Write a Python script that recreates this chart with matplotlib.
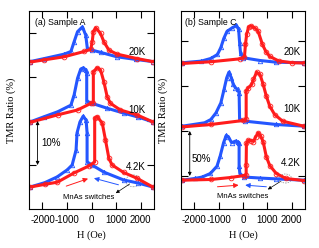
import matplotlib
matplotlib.use("Agg")
import matplotlib.pyplot as plt
from matplotlib.patches import Ellipse

plt.rcParams["font.family"] = ["Liberation Sans", "DejaVu Sans"]
plt.rcParams["axes.unicode_minus"] = False

# field values (Oe) and TMR (%, offset per temperature)
# ---- panel (a), Sample A ----
A_20K_BLUE_H = [-2500, -1920, -1110, -840, -710, -570, -370, -235, -170, 30, 370, 1030, 1800, 2500]
A_20K_BLUE_Y = [33.5, 34.2, 35.2, 35.8, 38.0, 40.3, 41.4, 39.5, 36.5, 36.1, 35.6, 34.6, 34.0, 33.5]
A_20K_RED_H = [-2500, -1920, -1110, -300, -30, 30, 75, 170, 370, 505, 710, 1040, 1850, 2500]
A_20K_RED_Y = [33.4, 33.9, 34.6, 35.8, 36.3, 38.0, 40.3, 41.2, 39.9, 38.0, 36.1, 35.2, 34.2, 33.5]

A_10K_BLUE_H = [-2500, -1920, -1380, -840, -710, -570, -440, -330, -235, -195, -195, 30, 640, 1310, 1900, 2500]
A_10K_BLUE_Y = [19.8, 21.0, 22.1, 23.6, 25.9, 29.7, 31.8, 32.1, 31.6, 30.8, 24.5, 24.0, 22.9, 21.8, 20.9, 19.8]
A_10K_RED_H = [-2500, -1380, -570, -30, 75, 75, 235, 370, 505, 640, 775, 1180, 1850, 2500]
A_10K_RED_Y = [19.7, 21.4, 22.5, 24.0, 24.2, 31.2, 32.1, 31.6, 28.9, 25.5, 24.0, 22.5, 21.4, 19.8]

A_42K_BLUE_H = [-2500, -1900, -1400, -990, -790, -630, -590, -470, -340, -220, -180, -180, 20, 500, 1310, 1900, 2500]
A_42K_BLUE_Y = [5.0, 6.0, 7.3, 8.9, 10.0, 13.4, 17.3, 19.8, 21.1, 20.2, 17.3, 10.7, 10.0, 8.4, 6.6, 5.9, 5.0]
A_42K_RED_H = [-2500, -1900, -1390, -710, -100, 130, 130, 235, 440, 570, 710, 840, 1310, 1850, 2500]
A_42K_RED_Y = [5.0, 5.6, 6.1, 8.2, 9.8, 10.7, 20.6, 21.0, 19.5, 15.7, 11.5, 10.0, 8.3, 7.0, 5.0]

# ---- panel (b), Sample C ----
B_20K_BLUE_H = [-2500, -1720, -1320, -1050, -910, -790, -660, -440, -270, -180, -140, -100, 20, 700, 1370, 2500]
B_20K_BLUE_Y = [125.8, 127.6, 130.6, 135.0, 142.8, 152.8, 160.6, 164.7, 167.2, 162.8, 148.0, 136.1, 131.3, 128.3, 126.4, 125.8]
B_20K_RED_H = [-2500, -1320, -110, 60, 100, 150, 230, 330, 490, 620, 800, 940, 1100, 1470, 2030, 2500]
B_20K_RED_Y = [125.0, 126.9, 130.2, 132.2, 146.1, 157.2, 165.6, 166.7, 164.4, 160.9, 146.1, 138.3, 132.8, 127.8, 125.8, 125.6]

B_10K_BLUE_H = [-2500, -1580, -1320, -1110, -910, -780, -670, -580, -480, -400, -310, -220, -160, -140, 90, 1370, 2500]
B_10K_BLUE_Y = [55.3, 59.1, 62.8, 70.2, 81.3, 96.1, 109.1, 115.3, 109.1, 101.7, 98.0, 96.1, 92.4, 62.8, 60.9, 57.2, 55.3]
B_10K_RED_H = [-2500, -1320, 20, 130, 130, 220, 360, 430, 560, 700, 830, 960, 1100, 1300, 1630, 2500]
B_10K_RED_Y = [54.5, 57.2, 61.7, 62.8, 94.2, 98.0, 101.7, 107.2, 115.3, 112.8, 101.7, 88.7, 77.6, 68.3, 60.9, 55.3]

B_42K_BLUE_H = [-2500, -1990, -1680, -1340, -1070, -940, -800, -690, -600, -470, -300, -200, -160, -160, -130, 50, 700, 1340, 2500]
B_42K_BLUE_Y = [-4.7, -2.8, -1.2, 2.8, 10.9, 22.0, 36.9, 45.0, 43.5, 37.0, 38.8, 37.2, 36.5, 10.8, 2.7, -1.2, -2.3, -3.2, -4.7]
B_42K_RED_H = [-2500, -1320, -510, 50, 130, 130, 140, 220, 330, 430, 530, 630, 720, 830, 960, 1100, 1370, 1770, 2500]
B_42K_RED_Y = [-4.7, -3.9, -1.7, 0.5, 0.8, 11.9, 36.1, 39.7, 39.4, 38.3, 43.8, 47.9, 44.9, 37.9, 21.3, 11.6, 2.7, -2.8, -5.1]

TEMPS = ["20K", "10K", "4.2K"]
XTICKS = [-2000, -1000, 0, 1000, 2000]

RED = "#ff1c1c"
BLUE = "#2456ff"


def draw_panel(ax, curves, ylim, yticks):
    for hb, yb, hr, yr in curves:
        ax.plot(hb, yb, color=BLUE, lw=2.2, marker="^", ms=3.2, mfc="none", mew=0.6)
        ax.plot(hr, yr, color=RED, lw=2.2, marker="o", ms=3.4, mfc="none", mew=0.6)
    ax.set_xlim(-2550, 2550)
    ax.set_ylim(*ylim)
    ax.set_xticks(XTICKS)
    ax.set_xticklabels([str(t) for t in XTICKS])
    ax.set_yticks(yticks)
    ax.set_yticklabels([])
    ax.tick_params(direction="in", top=True, right=True, length=5, width=0.8,
                   labelsize=7, pad=4)
    for s in ax.spines.values():
        s.set_linewidth(0.8)
    ax.set_xlabel("H (Oe)", family="Liberation Serif", fontsize=7.5, labelpad=4)
    ax.set_ylabel("TMR Ratio (%)", family="Liberation Serif", fontsize=7.5, labelpad=5)


fig = plt.figure(figsize=(3.19, 2.48), dpi=100)
ax_a = fig.add_axes([29 / 319, 1 - 209 / 248, 125 / 319, 198 / 248])
ax_b = fig.add_axes([181 / 319, 1 - 209 / 248, 124 / 319, 198 / 248])

draw_panel(ax_a, [(A_20K_BLUE_H, A_20K_BLUE_Y, A_20K_RED_H, A_20K_RED_Y),
                  (A_10K_BLUE_H, A_10K_BLUE_Y, A_10K_RED_H, A_10K_RED_Y),
                  (A_42K_BLUE_H, A_42K_BLUE_Y, A_42K_RED_H, A_42K_RED_Y)],
           (0, 45), [10, 20, 30, 40])
draw_panel(ax_b, [(B_20K_BLUE_H, B_20K_BLUE_Y, B_20K_RED_H, B_20K_RED_Y),
                  (B_10K_BLUE_H, B_10K_BLUE_Y, B_10K_RED_H, B_10K_RED_Y),
                  (B_42K_BLUE_H, B_42K_BLUE_Y, B_42K_RED_H, B_42K_RED_Y)],
           (-36.7, 183.3), [0, 50, 100, 150])

ax_a.text(0.045, 0.94, "(a) Sample A", transform=ax_a.transAxes, fontsize=6.3, va="center")
ax_b.text(0.035, 0.94, "(b) Sample C", transform=ax_b.transAxes, fontsize=6.3, va="center")

for t, y in zip(TEMPS, [35.7, 22.5, 9.5]):
    ax_a.text(2200, y, t, fontsize=7, ha="right", va="center")
for t, y in zip(TEMPS, [138.3, 73.9, 13.9]):
    ax_b.text(2380, y, t, fontsize=7, ha="right", va="center")

# scale bars
bar = dict(arrowstyle="<|-|>", color="black", lw=0.6, mutation_scale=5, shrinkA=0, shrinkB=0)
ax_a.annotate("", xy=(-2200, 20), xytext=(-2200, 10), arrowprops=bar)
ax_a.text(-2040, 15, "10%", fontsize=7, va="center")
ax_b.annotate("", xy=(-2190, 50), xytext=(-2190, 0), arrowprops=bar)
ax_b.text(-2120, 19.4, "50%", fontsize=7, va="center")


# sweep direction arrows and MnAs switch notes
def sweep_arrows(ax, red_tail, red_tip, blue_tail, blue_tip):
    ax.annotate("", xy=red_tip, xytext=red_tail,
                arrowprops=dict(arrowstyle="-|>", color="#ff9a9a", lw=0.7,
                                mutation_scale=7, fc=RED, ec=RED, shrinkA=0, shrinkB=0))
    ax.annotate("", xy=blue_tip, xytext=blue_tail,
                arrowprops=dict(arrowstyle="-|>", color="#9aa8ff", lw=0.7,
                                mutation_scale=7, fc=BLUE, ec=BLUE, shrinkA=0, shrinkB=0))


sweep_arrows(ax_a, (-1030, 5.2), (-140, 6.9), (1100, 5.5), (100, 7.0))
sweep_arrows(ax_b, (-1050, -12), (-180, -10.2), (960, -12), (90, -10.2))

ax_a.text(-100, 2.7, "MnAs switches", fontsize=5.5, ha="center", va="center")
ax_b.text(-30, -22.8, "MnAs switches", fontsize=5.5, ha="center", va="center")

ax_a.add_patch(Ellipse((1700, 6.4), 600, 2.7, fill=False, ls=(0, (2, 1.5)), ec="#888888", lw=0.5))
ax_b.add_patch(Ellipse((1740, -2.8), 520, 10, fill=False, ls=(0, (2, 1.5)), ec="#888888", lw=0.5))
black = dict(arrowstyle="-|>", color="black", lw=0.5, mutation_scale=5, shrinkA=0, shrinkB=0)
ax_a.annotate("", xy=(990, 3.6), xytext=(1560, 5.7), arrowprops=black)
ax_b.annotate("", xy=(1020, -15), xytext=(1540, -6.1), arrowprops=black)

fig.savefig("out.png", dpi=100)
